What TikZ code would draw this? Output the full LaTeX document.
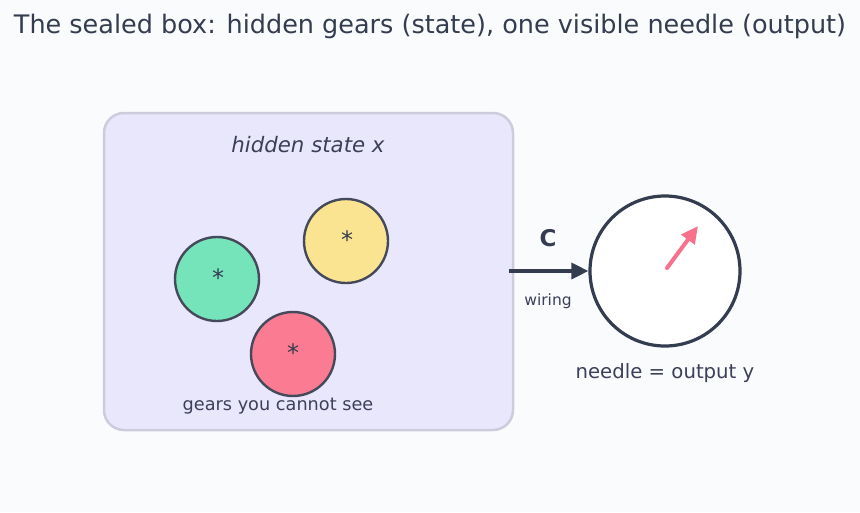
\documentclass[tikz,border=0pt]{standalone}
\usepackage{fontspec}
\setmainfont{DejaVu Sans}
\usetikzlibrary{arrows.meta}
\definecolor{bg}{HTML}{FAFBFD}
\definecolor{ink}{HTML}{333D4F}
\definecolor{boxfill}{HTML}{E9E7FB}
\definecolor{boxline}{HTML}{CDCBDC}
\definecolor{gearline}{HTML}{454A5A}
\definecolor{gGreen}{HTML}{76E4BB}
\definecolor{gYellow}{HTML}{FBE491}
\definecolor{gRed}{HTML}{FB7B93}
\definecolor{needlec}{HTML}{F7718A}
\definecolor{txt}{HTML}{3D3F5A}
\tikzset{
  gear/.style={circle, draw=gearline, line width=2.4pt, minimum size=84pt, inner sep=0pt},
  star/.style={font=\fontsize{24}{24}\selectfont, text=ink},
  lbl/.style={text=txt, inner sep=0pt},
  tip/.style={-{Triangle[length=17pt,width=16pt]}},
}
\begin{document}
\begin{tikzpicture}[x=1pt,y=-1pt]
\fill[bg] (0,0) rectangle (860,512);
\useasboundingbox (0,0) rectangle (860,512);
\node[lbl, text=ink, font=\fontsize{25.5}{25.5}\selectfont] (title) at (430,26) {The sealed box: hidden gears (state), one visible needle (output)};
\node[draw=boxline, fill=boxfill, line width=2.5pt, rounded corners=20pt, minimum width=409pt, minimum height=317pt, inner sep=0pt] (box) at (308.5,271.5) {};
\node[lbl, font=\fontsize{21.3}{21.3}\selectfont\itshape] (hs) at (308,145) {hidden state x};
\node[gear, fill=gGreen] (g1) at (217,279) {};
\node[gear, fill=gYellow] (g2) at (346,241) {};
\node[gear, fill=gRed] (g3) at (293,354) {};
\node[star] at (218,278) {*};
\node[star] at (347,240) {*};
\node[star] at (293,353) {*};
\node[lbl, font=\fontsize{17.7}{17.7}\selectfont] (gy) at (278,406) {gears you cannot see};
\node[circle, draw=ink, fill=white, line width=3.2pt, minimum size=150pt, inner sep=0pt] (dial) at (665,271) {};
\coordinate (as) at (509,271);
\draw[ink, line width=3.5pt, tip] (as) -- (dial.west);
\node[lbl, text=ink, font=\fontsize{23}{23}\selectfont\bfseries] (C) at (548,238) {C};
\node[lbl, font=\fontsize{15.5}{15.5}\selectfont] (w) at (548,301) {wiring};
\coordinate (n0) at (667,268);
\coordinate (n1) at (698,226);
\draw[needlec, line width=4pt, line cap=round, tip] (n0) -- (n1);
\node[lbl, font=\fontsize{19.7}{19.7}\selectfont] (ny) at (665,373) {needle = output y};
\end{tikzpicture}
\end{document}
